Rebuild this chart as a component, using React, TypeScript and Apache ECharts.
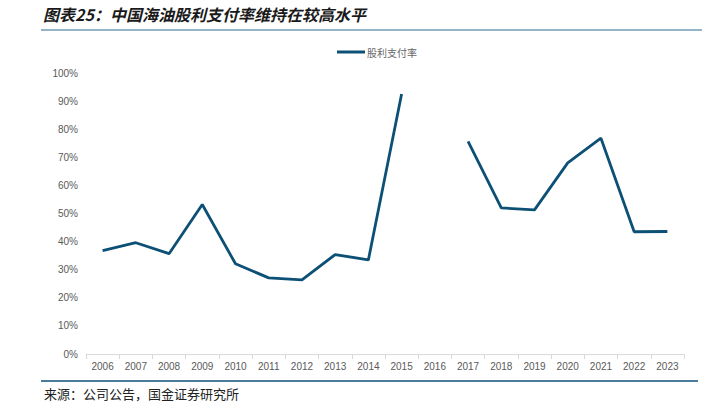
import React, { useEffect, useRef } from "react";
import * as echarts from "echarts";

const years = ["2006","2007","2008","2009","2010","2011","2012","2013","2014","2015","2016","2017","2018","2019","2020","2021","2022","2023"];
const payoutRatio: (number | null)[] = [36.8, 39.6, 35.7, 53.2, 32.1, 27.1, 26.4, 35.4, 33.5, 92.5, null, 75.7, 52.0, 51.3, 68.0, 76.8, 43.5, 43.6];
const yTicks = [0, 10, 20, 30, 40, 50, 60, 70, 80, 90, 100];
const titleText = "图表25：中国海油股利支付率维持在较高水平";
const sourceText = "来源：公司公告，国金证券研究所";
const seriesName = "股利支付率";

export default function App() {
  const ref = useRef<HTMLDivElement>(null);
  useEffect(() => {
    if (!ref.current) return;
    const chart = echarts.init(ref.current, null, { renderer: "svg" });
    chart.setOption({
      animation: false,
      backgroundColor: "#fff",
      grid: { left: 86, right: 29, top: 73, bottom: 58 },
      legend: {
        top: 42,
        left: 332,
        itemWidth: 28,
        itemHeight: 3,
        icon: "rect",
        itemGap: 4,
        textStyle: { color: "#666", fontSize: 10, fontFamily: "Noto Sans CJK SC", padding: [0, 0, 0, -3] },
        data: [seriesName],
      },
      xAxis: {
        type: "category",
        data: years,
        boundaryGap: true,
        axisLine: { lineStyle: { color: "#d9d9d9" } },
        axisTick: { show: true, lineStyle: { color: "#d9d9d9" } },
        axisLabel: { color: "#595959", fontSize: 10, fontFamily: "Liberation Sans", margin: 7 },
      },
      yAxis: {
        type: "value",
        min: yTicks[0],
        max: yTicks[yTicks.length - 1],
        interval: 10,
        splitLine: { show: false },
        axisLine: { show: false },
        axisTick: { show: false },
        axisLabel: { color: "#595959", fontSize: 10, fontFamily: "Liberation Sans", formatter: "{value}%", margin: 8 },
      },
      series: [
        {
          name: seriesName,
          type: "line",
          data: payoutRatio,
          connectNulls: false,
          symbol: "none",
          lineStyle: { color: "#0d5076", width: 2.8 },
          itemStyle: { color: "#0d5076" },
        },
      ],
      graphic: [
        {
          type: "text",
          left: 43,
          top: 6,
          style: {
            text: titleText,
            fill: "#1a1a1a",
            font: "italic bold 16px 'Noto Sans CJK SC'",
          },
        },
        {
          type: "line",
          shape: { x1: 41, y1: 30, x2: 702, y2: 30 },
          style: { stroke: "#6f9db5", lineWidth: 1.5 },
        },
        {
          type: "line",
          shape: { x1: 41, y1: 381, x2: 698, y2: 381 },
          style: { stroke: "#0d5076", lineWidth: 1.5 },
        },
        {
          type: "text",
          left: 44,
          top: 387,
          style: {
            text: sourceText,
            fill: "#222",
            font: "13px 'Noto Sans CJK SC'",
          },
        },
      ],
    });
    return () => chart.dispose();
  }, []);
  return <div ref={ref} style={{ width: 713, height: 412, position: "absolute", left: 0, top: 0 }} />;
}
